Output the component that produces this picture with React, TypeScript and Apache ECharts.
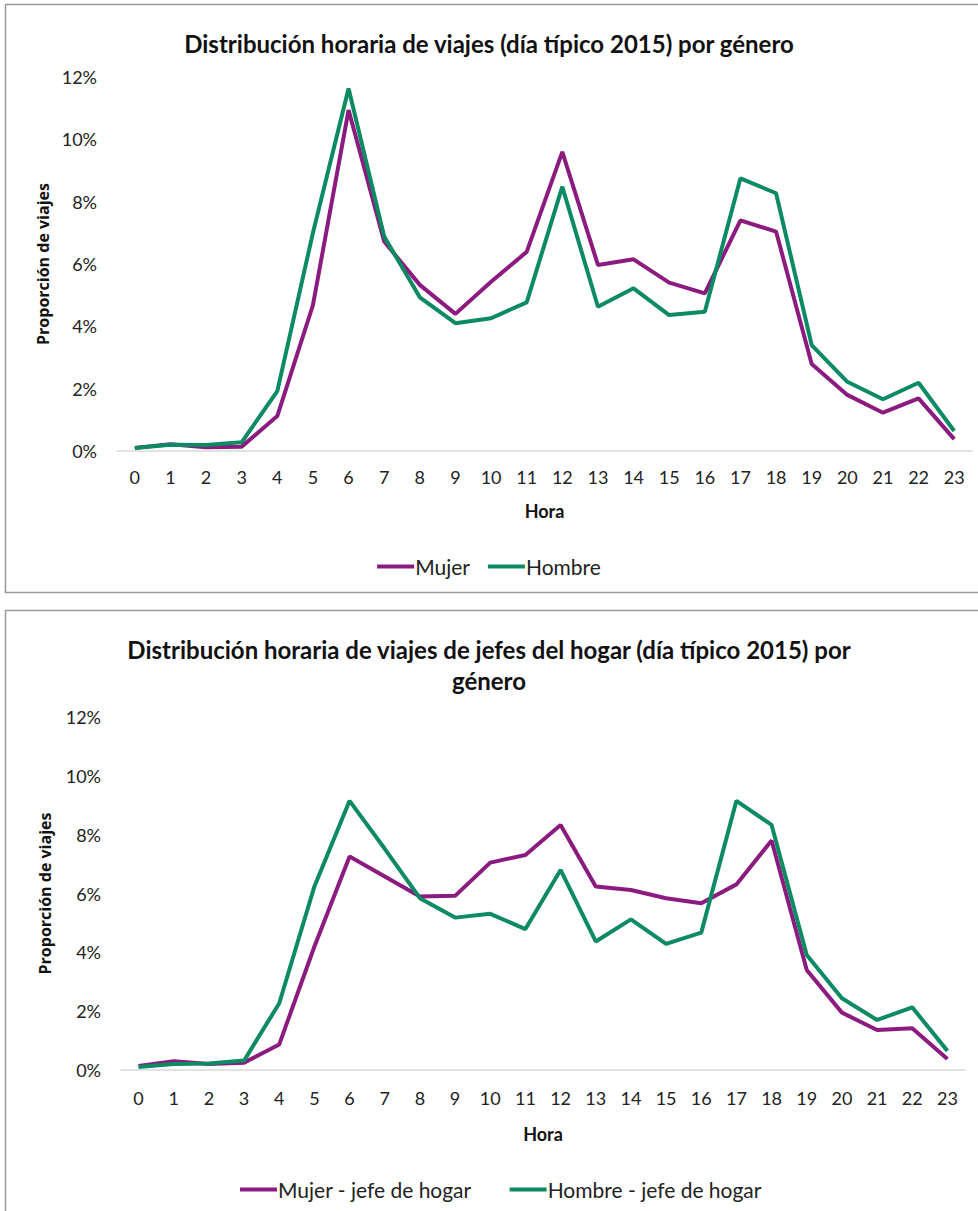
import React, { useEffect, useRef } from "react";
import * as echarts from "echarts";

// Hours of the day (x categories)
const hours = [
  "0", "1", "2", "3", "4", "5", "6", "7", "8", "9", "10", "11",
  "12", "13", "14", "15", "16", "17", "18", "19", "20", "21", "22", "23",
];

// Share of trips per hour (%), all travellers
const mujer = [
  0.1, 0.22, 0.12, 0.14, 1.12, 4.68, 10.94, 6.72, 5.33, 4.4, 5.43, 6.39,
  9.6, 5.97, 6.15, 5.4, 5.06, 7.4, 7.04, 2.79, 1.8, 1.23, 1.69, 0.38,
];
const hombre = [
  0.1, 0.2, 0.19, 0.28, 1.92, 7.0, 11.63, 6.88, 4.93, 4.1, 4.26, 4.77,
  8.48, 4.63, 5.22, 4.36, 4.47, 8.75, 8.27, 3.4, 2.22, 1.66, 2.19, 0.64,
];

// Share of trips per hour (%), heads of household
const mujerJefe = [
  0.14, 0.3, 0.2, 0.25, 0.87, 4.2, 7.26, 6.58, 5.9, 5.92, 7.05, 7.31,
  8.33, 6.24, 6.12, 5.84, 5.67, 6.31, 7.8, 3.4, 1.95, 1.36, 1.42, 0.37,
];
const hombreJefe = [
  0.1, 0.2, 0.22, 0.32, 2.27, 6.24, 9.15, 7.52, 5.84, 5.18, 5.31, 4.79,
  6.8, 4.37, 5.12, 4.29, 4.67, 9.15, 8.33, 3.91, 2.44, 1.7, 2.13, 0.65,
];

const title1 = "Distribución horaria de viajes (día típico 2015) por género";
const title2 =
  "Distribución horaria de viajes de jefes del hogar (día típico 2015) por\ngénero";
const yName = "Proporción de viajes";
const xName = "Hora";
const legend1 = ["Mujer", "Hombre"];
const legend2 = ["Mujer - jefe de hogar", "Hombre - jefe de hogar"];

const PURPLE = "#8C1B80";
const GREEN = "#0B8A64";
const FONT = "Lato, 'Noto Sans', sans-serif";

export default function App() {
  const ref = useRef<HTMLDivElement>(null);

  useEffect(() => {
    if (!ref.current) return;
    const chart = echarts.init(ref.current, undefined, { renderer: "svg" });

    const xAxisBase = (gridIndex: number, labelMargin: number, nameGap: number) => ({
      type: "category" as const,
      gridIndex,
      data: hours,
      boundaryGap: true,
      axisLine: { show: true, lineStyle: { color: "#D9D9D9", width: 1.5 } },
      axisTick: { show: false },
      axisLabel: { color: "#222", fontSize: 18, fontFamily: FONT, margin: labelMargin, interval: 0 },
      name: xName,
      nameLocation: "middle" as const,
      nameGap,
      nameTextStyle: { color: "#111", fontSize: 18, fontWeight: "bold" as const, fontFamily: FONT },
      splitLine: { show: false },
    });

    const yAxisBase = (gridIndex: number, nameGap: number) => ({
      type: "value" as const,
      gridIndex,
      min: 0,
      max: 12,
      interval: 2,
      axisLine: { show: false },
      axisTick: { show: false },
      splitLine: { show: false },
      axisLabel: {
        color: "#222",
        fontSize: 18,
        fontFamily: FONT,
        margin: 20,
        formatter: (v: number) => `${v}%`,
      },
      name: yName,
      nameLocation: "middle" as const,
      nameGap,
      nameRotate: 90,
      nameTextStyle: {
        color: "#111",
        fontSize: 16,
        fontWeight: "bold" as const,
        fontFamily: "'Open Sans', sans-serif",
      },
    });

    const lineSeries = (name: string, data: number[], color: string, idx: number) => ({
      type: "line" as const,
      name,
      data,
      xAxisIndex: idx,
      yAxisIndex: idx,
      symbol: "none",
      lineStyle: { color, width: 4 },
      itemStyle: { color },
    });

    chart.setOption({
      animation: false,
      backgroundColor: "#fff",
      title: [
        {
          text: title1,
          left: "center",
          top: 26,
          textStyle: { fontFamily: FONT, fontWeight: "bold", fontSize: 24, color: "#111" },
        },
        {
          text: title2,
          left: "center",
          top: 629,
          textStyle: {
            fontFamily: FONT,
            fontWeight: "bold",
            fontSize: 24,
            lineHeight: 31,
            color: "#111",
          },
        },
      ],
      legend: [
        {
          data: legend1,
          left: "center",
          top: 551,
          icon: "rect",
          itemWidth: 37,
          itemHeight: 4,
          itemGap: 18,
          textStyle: { fontFamily: FONT, fontSize: 21, color: "#222", padding: [0, 0, 0, -4] },
        },
        {
          data: legend2,
          left: 235,
          top: 1174,
          icon: "rect",
          itemWidth: 37,
          itemHeight: 4,
          itemGap: 38,
          textStyle: { fontFamily: FONT, fontSize: 21, color: "#222", padding: [0, 0, 0, -4] },
        },
      ],
      grid: [
        { left: 117, width: 855, top: 77, height: 374 },
        { left: 121, width: 844, top: 717, height: 353 },
      ],
      xAxis: [xAxisBase(0, 17, 51), xAxisBase(1, 19, 55)],
      yAxis: [yAxisBase(0, 63), yAxisBase(1, 68)],
      series: [
        lineSeries(legend1[0], mujer, PURPLE, 0),
        lineSeries(legend1[1], hombre, GREEN, 0),
        lineSeries(legend2[0], mujerJefe, PURPLE, 1),
        lineSeries(legend2[1], hombreJefe, GREEN, 1),
      ],
      graphic: [
        {
          type: "rect",
          shape: { x: 5.5, y: 4.5, width: 980, height: 588 },
          style: { fill: "none", stroke: "#9A9A9A", lineWidth: 1.5 },
          silent: true,
        },
        {
          type: "rect",
          shape: { x: 5.5, y: 610.5, width: 980, height: 610 },
          style: { fill: "none", stroke: "#9A9A9A", lineWidth: 1.5 },
          silent: true,
        },
      ],
    });

    return () => chart.dispose();
  }, []);

  return (
    <div
      ref={ref}
      style={{ position: "absolute", left: 0, top: 0, width: 978, height: 1211 }}
    />
  );
}
